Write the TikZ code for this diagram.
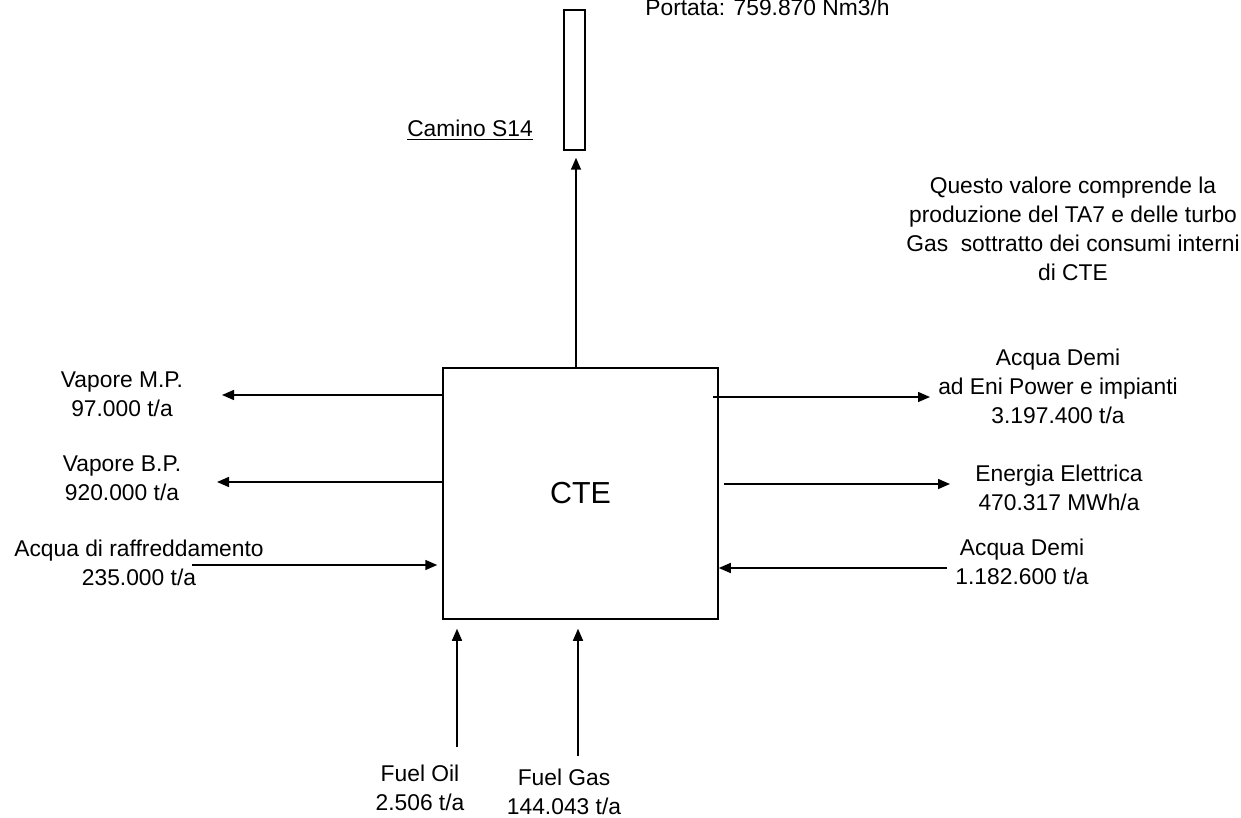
\documentclass[tikz,border=0pt]{standalone}
\usepackage{fontspec}
\setmainfont{Liberation Sans}
\usetikzlibrary{arrows.meta, positioning}

\begin{document}
\begin{tikzpicture}[
        x=0.5pt, y=-0.5pt,
        unit_node/.style={rectangle, draw=black, line width=0.75pt, minimum width=137.5pt, minimum height=125.5pt, font=\fontsize{15.2}{18}\selectfont},
        stack_node/.style={rectangle, draw=black, line width=0.75pt, minimum width=10.5pt, minimum height=70pt, inner sep=0pt},
        label_node/.style={align=center, inner sep=0pt, font=\fontsize{11.4}{14.5}\selectfont},
        flow/.style={-{Triangle[length=6pt, width=5pt]}, draw=black, line width=0.75pt}
    ]
    \useasboundingbox (0,0) rectangle (1241,818);

    % Plant and stack
    \node[unit_node] (cte) at (580.5,493.5) {CTE};
    \node[stack_node] (camino) at (574.5,80) {};
    \node[label_node] (caminolbl) at (470,130) {\underline{Camino S14}};
    \node[label_node, anchor=base west] (portata) at (645,16) {Portata: 759.870 Nm3/h};
    \node[label_node] (nota) at (1073,229) {Questo valore comprende la\\produzione del TA7 e delle turbo\\Gas~ sottratto dei consumi interni\\di CTE};

    % Left side
    \node[label_node] (vapmp) at (122,394) {Vapore M.P.\\97.000 t/a};
    \node[label_node] (vapbp) at (122,478) {Vapore B.P.\\920.000 t/a};
    \node[label_node] (raffr) at (139,563) {Acqua di raffreddamento\\235.000 t/a};
    \coordinate (vapmpEnd) at (222,395);
    \coordinate (vapbpEnd) at (217,482);
    \coordinate (raffrStart) at (192,565);

    % Right side
    \node[label_node] (demiout) at (1058,386) {Acqua Demi\\ad Eni Power e impianti\\3.197.400 t/a};
    \node[label_node] (energia) at (1059,488) {Energia Elettrica\\470.317 MWh/a};
    \node[label_node] (demiin) at (1022,562) {Acqua Demi\\1.182.600 t/a};
    \coordinate (demioutEnd) at (930,397);
    \coordinate (energiaEnd) at (950,484);
    \coordinate (demiinStart) at (947,568);

    % Fuels
    \node[label_node] (oil) at (420,788) {Fuel Oil\\2.506 t/a};
    \node[label_node] (gas) at (564,792) {Fuel Gas\\144.043 t/a};
    \coordinate (oilStart) at (457,747);
    \coordinate (gasStart) at (578,756);

    % Connections
    \draw[flow] (cte.north -| 576,0) -- ([yshift=-3.5pt]camino.south -| 576,0);
    \draw[flow] (cte.west |- vapmpEnd) -- (vapmpEnd);
    \draw[flow] ([xshift=1pt]cte.west |- vapbpEnd) -- (vapbpEnd);
    \draw[flow, shorten >=2.5pt] (raffrStart) -- (raffrStart -| cte.west);
    \draw[flow] ([xshift=-3pt]cte.east |- demioutEnd) -- (demioutEnd);
    \draw[flow] ([xshift=2.5pt]cte.east |- energiaEnd) -- (energiaEnd);
    \draw[flow] (demiinStart) -- (demiinStart -| cte.east);
    \draw[flow, shorten >=4.5pt] (oilStart) -- (oilStart |- cte.south);
    \draw[flow, shorten >=4.5pt] (gasStart) -- (gasStart |- cte.south);

\end{tikzpicture}
\end{document}
